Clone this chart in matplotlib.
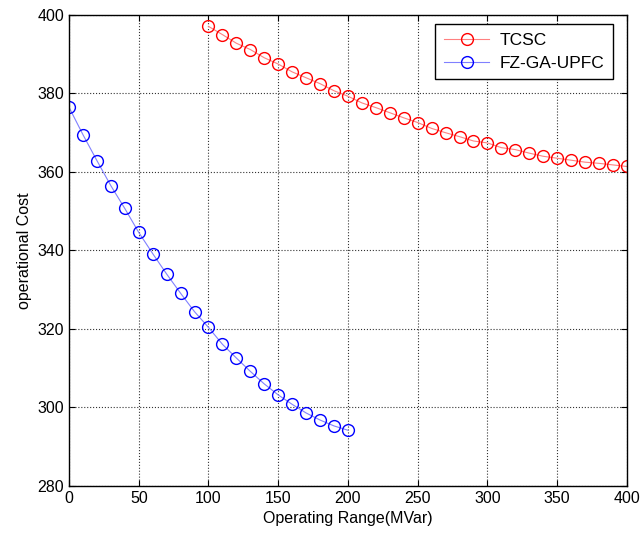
import matplotlib
matplotlib.use('Agg')
import matplotlib.pyplot as plt

# operating range (MVar) and cost values
tcsc_x = list(range(100, 401, 10))
tcsc_cost = [397.1, 395.0, 392.8, 391.2, 389.1, 387.5, 385.5, 384.0, 382.5, 380.7,
             379.3, 377.6, 376.4, 375.1, 373.8, 372.6, 371.1, 370.0, 369.0, 367.9,
             367.4, 366.2, 365.7, 364.8, 364.0, 363.5, 363.0, 362.5, 362.2, 361.8,
             361.4]

upfc_x = list(range(0, 201, 10))
upfc_cost = [376.5, 369.5, 362.9, 356.5, 350.7, 344.6, 339.2, 334.0, 329.1, 324.4,
             320.4, 316.1, 312.6, 309.2, 306.0, 303.2, 300.8, 298.6, 296.8, 295.3,
             294.2]

x_ticks = [0, 50, 100, 150, 200, 250, 300, 350, 400]
y_ticks = [280, 300, 320, 340, 360, 380, 400]

plt.rcParams['font.family'] = ['Liberation Sans', 'DejaVu Sans']

fig = plt.figure(figsize=(6.42, 5.41), dpi=100)
ax = fig.add_axes([0.1075, 0.1017, 0.869, 0.8706])

ax.plot(tcsc_x, tcsc_cost, color='#ff8080', linewidth=0.8, marker='o', markersize=8.5,
        markerfacecolor='none', markeredgecolor='red', markeredgewidth=1.0, label='TCSC')
ax.plot(upfc_x, upfc_cost, color='#8080ff', linewidth=0.8, marker='o', markersize=8.5,
        markerfacecolor='none', markeredgecolor='blue', markeredgewidth=1.0, label='FZ-GA-UPFC')

ax.set_xlim(0, 400)
ax.set_ylim(280, 400)
ax.set_xticks(x_ticks)
ax.set_yticks(y_ticks)
ax.grid(True, color='#333333', linestyle=':', linewidth=0.8)
ax.tick_params(direction='in', top=True, right=True, labelsize=11.5, length=4)
for s in ax.spines.values():
    s.set_linewidth(1.0)

ax.set_xlabel('Operating Range(MVar)', fontsize=11.5)
ax.set_ylabel('operational Cost', fontsize=11.5)

leg = ax.legend(loc='upper right', bbox_to_anchor=(0.975, 0.981), fontsize=12.5,
                fancybox=False, framealpha=1, edgecolor='black', borderaxespad=0,
                handlelength=2.6, handletextpad=0.6, borderpad=0.5, labelspacing=0.45)
leg.get_frame().set_linewidth(1.0)

fig.savefig('out.png', dpi=100)
